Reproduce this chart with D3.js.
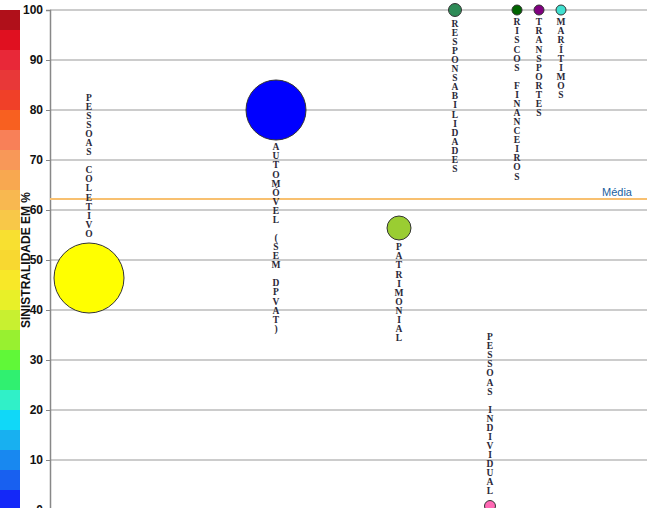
<!DOCTYPE html>
<html><head><meta charset="utf-8">
<script src="https://cdn.jsdelivr.net/npm/d3@7"></script>
<style>html,body{margin:0;padding:0;background:#fff;overflow:hidden}</style>
</head><body>
<svg id="c" width="647" height="508"></svg>
<script>
// ---- data ----
const categories = ["PESSOAS COLETIVO","AUTOMÓVEL (SEM DPVAT)","PATRIMONIAL","RESPONSABILIDADES","PESSOAS INDIVIDUAL","RISCOS FINANCEIROS","TRANSPORTES","MARÍTIMOS"];
const sinistralidade = [46.4, 80, 56.4, 100, 0.8, 100, 100, 100];
const xPositions = [39, 226, 349, 405, 440, 467, 489, 511];
const bubbleSizes = [1225, 900, 144, 42, 30, 25, 25, 25];
const bubbleColors = ["#ffff00","#0000ff","#9acd32","#2e8b57","#ff69b4","#006400","#800080","#40e0d0"];
const labelSide = ["above","below","below","below","above","below","below","below"];
const media = 62.2;
const mediaLabel = "Média";
const yTicks = [0,10,20,30,40,50,60,70,80,90,100];
const yTitle = "SINISTRALIDADE EM %";
const colorBarStops = [0,4,8,12,16,20,24,28,32,36,40,44,48,52,56,60,64,68,72,76,80,84,88,92,96];
const colorBarColors = ["#1428f8","#1860f0","#1888f0","#18b0f0","#10d8f8","#30f0c8","#30f070","#60f838","#98f030","#c8f030","#e8f028","#f8e828","#f8d830","#f8e030","#f8c848","#f8b850","#f8a850","#f89858","#f88058","#f86020","#f04028","#e83838","#e82838","#e01020","#b0101a"];

// ---- chart ----
const svg = d3.select("#c");
const y = d3.scaleLinear().domain([0,100]).range([510,10]);
const x = d3.scaleLinear().domain([0,597]).range([50,647]);
const r = d3.scaleSqrt().domain([0,1225]).range([0,35]);

// color bar
svg.append("g").selectAll("rect").data(colorBarStops).join("rect")
  .attr("x",0).attr("width",20)
  .attr("y",d=>y(d+4)).attr("height",d=>y(d)-y(d+4))
  .attr("fill",(d,i)=>colorBarColors[i]);

// gridlines
svg.append("g").selectAll("line").data(yTicks.filter(d=>d>0)).join("line")
  .attr("x1",50).attr("x2",647).attr("y1",d=>y(d)).attr("y2",d=>y(d))
  .attr("stroke","#9a9a9a").attr("stroke-width",1.2);

// axis
const ax = svg.append("g").attr("transform","translate(50,0)")
  .call(d3.axisLeft(y).tickValues(yTicks).tickSize(4).tickPadding(3));
ax.select(".domain").attr("stroke","#888").attr("stroke-width",1.5);
ax.selectAll(".tick line").attr("stroke","#888");
ax.selectAll(".tick text").attr("font-family","Liberation Sans, Arial, sans-serif")
  .attr("font-size",12).attr("font-weight","bold").attr("fill","#111");

// y title
svg.append("text").attr("transform","translate(30,260) rotate(-90)")
  .attr("text-anchor","middle").attr("font-family","Liberation Sans Narrow, Liberation Sans, Arial, sans-serif")
  .attr("font-size",12).attr("font-weight","bold").attr("fill","#111").text(yTitle);

// media line
svg.append("line").attr("x1",50).attr("x2",647).attr("y1",y(media)).attr("y2",y(media))
  .attr("stroke","#f8c070").attr("stroke-width",2);
svg.append("text").attr("x",632).attr("y",y(media)-3).attr("text-anchor","end")
  .attr("font-family","Liberation Sans, Arial, sans-serif").attr("font-size",11)
  .attr("fill","#1a5fa0").text(mediaLabel);

// bubbles
const data = categories.map((c,i)=>({c, v:sinistralidade[i], xp:xPositions[i], s:bubbleSizes[i], col:bubbleColors[i], side:labelSide[i]}));
svg.append("g").selectAll("circle").data(data).join("circle")
  .attr("cx",d=>x(d.xp)).attr("cy",d=>y(d.v)).attr("r",d=>r(d.s))
  .attr("fill",d=>d.col).attr("stroke","#333").attr("stroke-width",1);

// vertical labels
const lh = 9.07;
const lg = svg.append("g").attr("font-family","Liberation Serif, Times New Roman, serif")
  .attr("font-size",9.5).attr("font-weight","bold").attr("fill","#2a2838").attr("text-anchor","middle");
data.forEach(d=>{
  const chars = Array.from(d.c);
  const cx = x(d.xp), cy = y(d.v), rr = r(d.s);
  const start = d.side==="below" ? cy+rr+7 : cy-rr-9.5-(chars.length-1)*lh;
  chars.forEach((ch,k)=>{
    if(ch===" ") return;
    lg.append("text").attr("x",cx).attr("y",start+k*lh).attr("dy","0.35em").text(ch);
  });
});
</script>
</body></html>
